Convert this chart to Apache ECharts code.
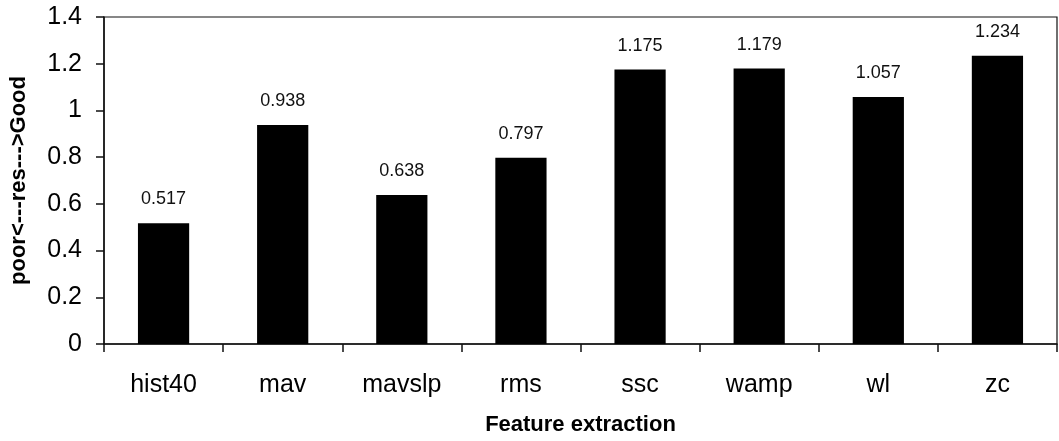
<!DOCTYPE html>
<html>
<head>
<meta charset="utf-8">
<script src="https://cdn.jsdelivr.net/npm/echarts@6/dist/echarts.min.js"></script>
<style>
  html, body { margin: 0; padding: 0; background: #fff; }
  #chart { width: 1059px; height: 441px; }
</style>
</head>
<body>
<div id="chart"></div>
<script>
// Feature extraction methods and their resulting scores
const categories = ['hist40', 'mav', 'mavslp', 'rms', 'ssc', 'wamp', 'wl', 'zc'];
const scores = [0.517, 0.938, 0.638, 0.797, 1.175, 1.179, 1.057, 1.234];
const yTicks = [0, 0.2, 0.4, 0.6, 0.8, 1, 1.2, 1.4];

const font = '"Liberation Sans", Arial, sans-serif';
const chart = echarts.init(document.getElementById('chart'));

chart.setOption({
  animation: false,
  backgroundColor: '#fff',
  textStyle: { fontFamily: font, color: '#000' },
  grid: {
    left: 100, right: 2, top: 17, bottom: 94,
    show: true, borderColor: '#111', borderWidth: 1.2,
    containLabel: false
  },
  xAxis: {
    type: 'category',
    data: categories,
    name: 'Feature extraction',
    nameLocation: 'middle',
    nameGap: 70,
    nameTextStyle: { fontFamily: font, fontSize: 22, fontWeight: 'bold', color: '#000' },
    axisLine: { lineStyle: { color: '#111', width: 1.5 } },
    axisTick: { show: true, inside: false, length: 8, lineStyle: { color: '#111', width: 1.5 } },
    axisLabel: { fontFamily: font, fontSize: 25, color: '#000', margin: 29 },
    splitLine: { show: false }
  },
  yAxis: {
    type: 'value',
    min: yTicks[0],
    max: yTicks[yTicks.length - 1],
    interval: 0.2,
    name: 'poor<---res--->Good',
    nameLocation: 'middle',
    nameGap: 74,
    nameRotate: 90,
    nameTextStyle: { fontFamily: font, fontSize: 22, fontWeight: 'bold', color: '#000' },
    axisLine: { show: true, lineStyle: { color: '#111', width: 1.5 } },
    axisTick: { show: true, inside: false, length: 8, lineStyle: { color: '#111', width: 1.5 } },
    axisLabel: {
      fontFamily: font, fontSize: 25, color: '#000', margin: 22,
      formatter: v => String(parseFloat(v.toFixed(1)))
    },
    splitLine: { show: false }
  },
  series: [{
    type: 'bar',
    data: scores,
    barWidth: '43%',
    itemStyle: { color: '#000' },
    label: {
      show: true,
      position: 'top',
      distance: 15,
      fontFamily: font,
      fontSize: 18,
      color: '#111',
      formatter: p => p.value.toFixed(3)
    }
  }]
});
</script>
</body>
</html>
